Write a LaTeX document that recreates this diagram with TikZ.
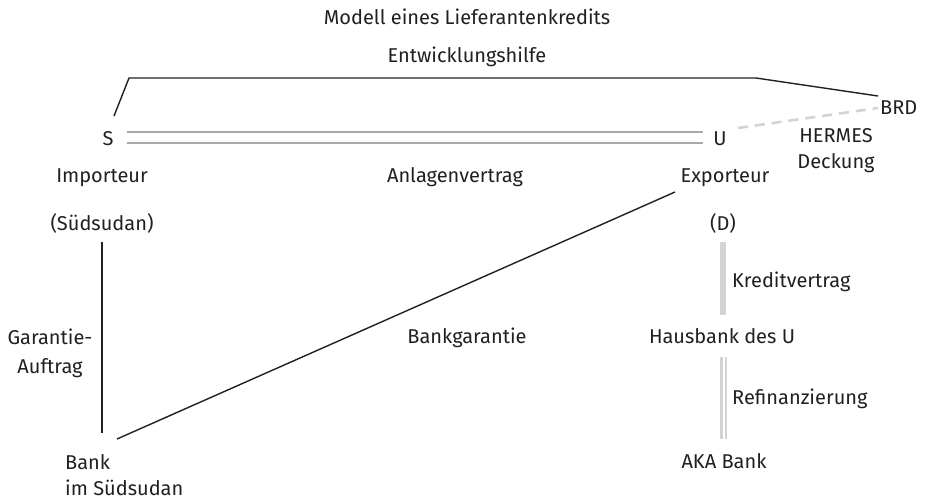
\documentclass[tikz,border=0pt]{standalone}
\usepackage{fontspec}
\setmainfont{Fira Sans}
\usetikzlibrary{positioning}
\definecolor{txt}{HTML}{231F20}
\definecolor{lightline}{HTML}{A7A9AC}
\definecolor{paleline}{HTML}{D1D3D4}

\begin{document}
\begin{tikzpicture}[
    x=1pt, y=-1pt,
    every node/.style={font=\fontsize{20}{26}\selectfont, text=txt, inner sep=1pt},
    lbl/.style={anchor=base},
    link/.style={draw=txt, line width=1.4pt},
    contract/.style={draw=lightline, line width=2.4pt, double=white, double distance=8.6pt},
    cover/.style={draw=paleline, line width=2.6pt, dash pattern=on 10pt off 7pt},
    credit/.style={draw=paleline, line width=6pt},
    refi/.style={draw=paleline, line width=2.5pt, double=white, double distance=2pt}
]
\useasboundingbox (0,0) rectangle (925,499);

\node (title) [lbl] at (467,24) {Modell eines Lieferantenkredits};
\node (aid) [lbl] at (467,62) {Entwicklungshilfe};
\node (S) [lbl] at (108,145) {S};
\node (U) [lbl] at (720,145) {U};
\node (BRD) [anchor=base west] at (879,114) {BRD};
\node (hermes) [anchor=north, align=center] at (836,127) {HERMES\\Deckung};
\node (imp) [lbl] at (102,182) {Importeur};
\node (anl) [lbl] at (455,182) {Anlagenvertrag};
\node (exp) [lbl] at (725,182) {Exporteur};
\node (sud) [lbl] at (102,230) {(Südsudan)};
\node (D) [lbl] at (723,230) {(D)};
\node (kredit) [anchor=base west] at (731,287) {Kreditvertrag};
\node (gar) [anchor=north, align=center] at (50,328) {Garantie-\\[3pt]Auftrag};
\node (bankgar) [lbl] at (467,343) {Bankgarantie};
\node (haus) [lbl] at (722,343) {Hausbank des U};
\node (refin) [anchor=base west] at (731,404) {Refinanzierung};
\node (bankS) [anchor=north west, align=left] at (64,453) {Bank\\im Südsudan};
\node (aka) [lbl] at (724,468) {AKA Bank};

% Vertraege und Beziehungen
\draw [contract] ([shift={(19,-7.5)}]S.base) -- ([shift={(-17,-7.5)}]U.base);
\draw [cover] ([shift={(18,-17)}]U.base) -- ([shift={(-1,-6)}]BRD.base west);
\draw [link] ([shift={(6,-29)}]S.base) -- (129,78) -- (756,78) -- ([shift={(-1,-18)}]BRD.base west);
\draw [link] ([shift={(0,12)}]sud.base) -- ([shift={(38,-20)}]bankS.north west);
\draw [link] ([shift={(53,-14)}]bankS.north west) -- ([shift={(-50,10)}]exp.base);
\draw [credit] ([shift={(0,12)}]D.base) -- ([shift={(1,-28)}]haus.base);
\draw [refi] ([shift={(1.5,14)}]haus.base) -- ([shift={(-0.5,-29)}]aka.base);

\end{tikzpicture}
\end{document}
